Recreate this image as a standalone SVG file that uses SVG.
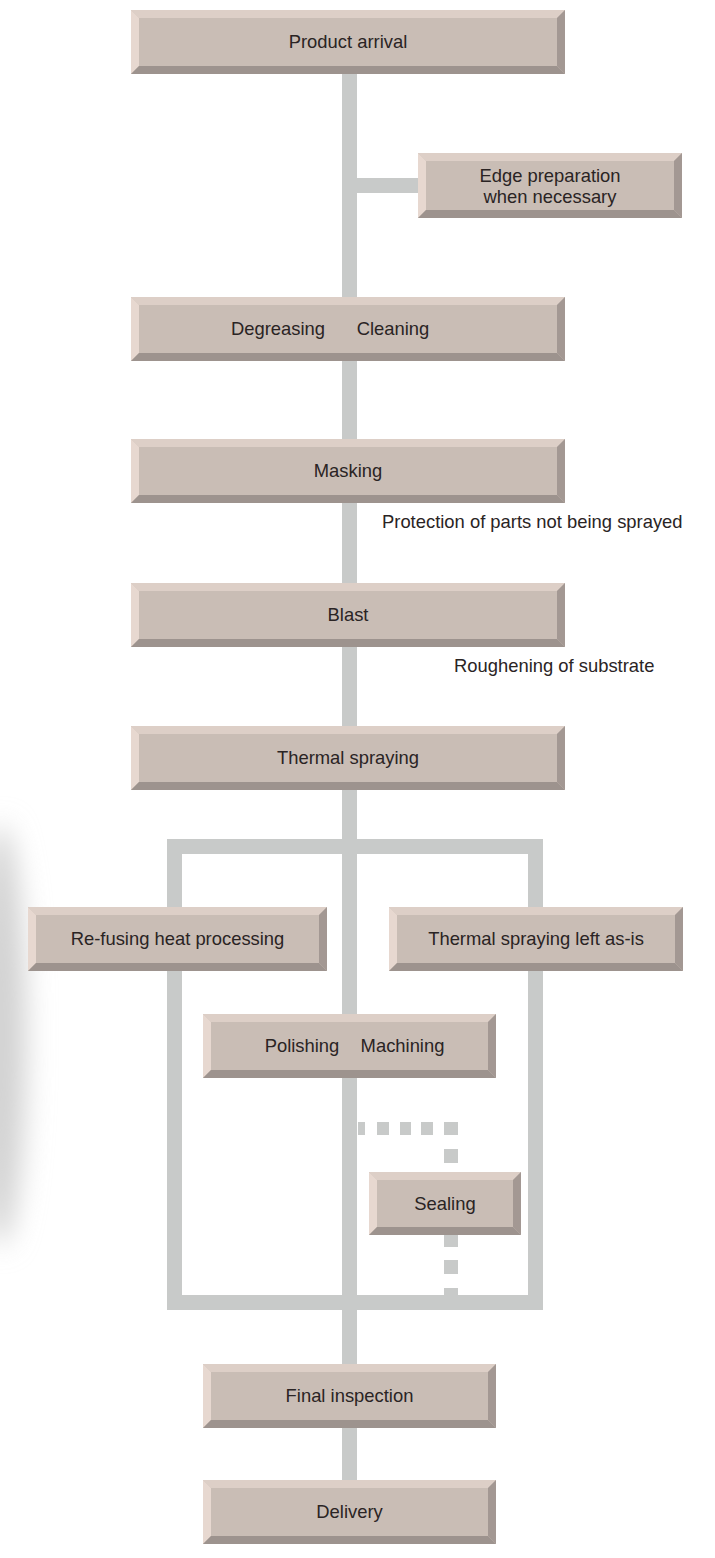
<svg xmlns="http://www.w3.org/2000/svg" xmlns:xlink="http://www.w3.org/1999/xlink" width="715" height="1558" viewBox="0 0 715 1558">
<style>
.face{fill:#c9bdb5}
.tp{fill:#ddcfc7}
.lf{fill:#e7d8d0}
.bt{fill:#9d938e}
.rt{fill:#a39893}
.line{fill:#c8cac9}
.frame{fill:none;stroke:#c8cac9;stroke-width:15}
text{font-family:"Liberation Sans",Arial,sans-serif;font-size:18.4px;fill:#2a2424;text-anchor:middle}
.note{text-anchor:start}
</style>
<defs>
<filter id="blur" x="-2" y="-1" width="5" height="3"><feGaussianBlur stdDeviation="14"/></filter>
<g id="b434"><rect class="face" width="434" height="64"/><polygon class="tp" points="0,0 434,0 426,8 8,8"/><polygon class="lf" points="0,0 8,8 8,56 0,64"/><polygon class="bt" points="0,64 8,56 426,56 434,64"/><polygon class="rt" points="434,0 434,64 426,56 426,8"/></g>
<g id="b293"><rect class="face" width="293" height="64"/><polygon class="tp" points="0,0 293,0 285,8 8,8"/><polygon class="lf" points="0,0 8,8 8,56 0,64"/><polygon class="bt" points="0,64 8,56 285,56 293,64"/><polygon class="rt" points="293,0 293,64 285,56 285,8"/></g>
</defs>
<rect width="715" height="1558" fill="#ffffff"/>
<ellipse cx="0" cy="1035" rx="26" ry="210" fill="#d2d2d2" filter="url(#blur)"/>
<g id="connectors">
<rect class="line" x="342" y="74" width="15" height="1406"/>
<rect class="line" x="357" y="178" width="61" height="15"/>
<rect class="frame" x="174.5" y="846.5" width="361" height="456"/>
<rect class="line" x="358" y="1122" width="7" height="13"/>
<rect class="line" x="377" y="1122" width="12" height="13"/>
<rect class="line" x="400" y="1122" width="11" height="13"/>
<rect class="line" x="421" y="1122" width="12" height="13"/>
<rect class="line" x="444" y="1122" width="14" height="13"/>
<rect class="line" x="444" y="1149" width="14" height="14"/>
<rect class="line" x="444" y="1235" width="14" height="12"/>
<rect class="line" x="444" y="1260" width="14" height="14"/>
<rect class="line" x="444" y="1288" width="14" height="7"/>
</g>
<g id="product-arrival"><use xlink:href="#b434" x="131" y="10"/><text x="348" y="48">Product arrival</text></g>
<g id="edge-preparation" transform="translate(418,153)"><rect class="face" width="264" height="65"/><polygon class="tp" points="0,0 264,0 256,8 8,8"/><polygon class="lf" points="0,0 8,8 8,57 0,65"/><polygon class="bt" points="0,65 8,57 256,57 264,65"/><polygon class="rt" points="264,0 264,65 256,57 256,8"/><text x="132" y="29">Edge preparation</text><text x="132" y="50">when necessary</text></g>
<g id="degreasing-cleaning"><use xlink:href="#b434" x="131" y="297"/><text x="278" y="335">Degreasing</text><text x="393" y="335">Cleaning</text></g>
<g id="masking"><use xlink:href="#b434" x="131" y="439"/><text x="348" y="477">Masking</text></g>
<text id="masking-note" class="note" x="382" y="528">Protection of parts not being sprayed</text>
<g id="blast"><use xlink:href="#b434" x="131" y="583"/><text x="348" y="621">Blast</text></g>
<text id="blast-note" class="note" x="454" y="672">Roughening of substrate</text>
<g id="thermal-spraying"><use xlink:href="#b434" x="131" y="726"/><text x="348" y="764">Thermal spraying</text></g>
<g id="re-fusing" transform="translate(28,907)"><rect class="face" width="299" height="64"/><polygon class="tp" points="0,0 299,0 291,8 8,8"/><polygon class="lf" points="0,0 8,8 8,56 0,64"/><polygon class="bt" points="0,64 8,56 291,56 299,64"/><polygon class="rt" points="299,0 299,64 291,56 291,8"/><text x="149.5" y="38">Re-fusing heat processing</text></g>
<g id="left-as-is" transform="translate(389,907)"><rect class="face" width="294" height="64"/><polygon class="tp" points="0,0 294,0 286,8 8,8"/><polygon class="lf" points="0,0 8,8 8,56 0,64"/><polygon class="bt" points="0,64 8,56 286,56 294,64"/><polygon class="rt" points="294,0 294,64 286,56 286,8"/><text x="147" y="38">Thermal spraying left as-is</text></g>
<g id="polishing-machining"><use xlink:href="#b293" x="203" y="1014"/><text x="302" y="1052">Polishing</text><text x="402.5" y="1052">Machining</text></g>
<g id="sealing" transform="translate(369,1172)"><rect class="face" width="152" height="63"/><polygon class="tp" points="0,0 152,0 144,8 8,8"/><polygon class="lf" points="0,0 8,8 8,55 0,63"/><polygon class="bt" points="0,63 8,55 144,55 152,63"/><polygon class="rt" points="152,0 152,63 144,55 144,8"/><text x="76" y="38">Sealing</text></g>
<g id="final-inspection"><use xlink:href="#b293" x="203" y="1364"/><text x="349.5" y="1402">Final inspection</text></g>
<g id="delivery"><use xlink:href="#b293" x="203" y="1480"/><text x="349.5" y="1518">Delivery</text></g>
</svg>
